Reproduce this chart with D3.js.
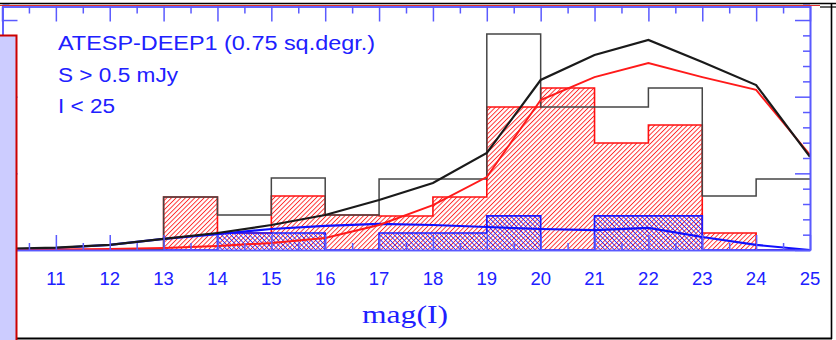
<!DOCTYPE html>
<html>
<head>
<meta charset="utf-8">
<script src="https://cdn.jsdelivr.net/npm/d3@7"></script>
<style>
  body { margin: 0; background: #fff; }
  svg { display: block; }
</style>
</head>
<body>
<svg id="chart"></svg>
<script>
// bin edges in mag(I) and histogram heights (per bin)
let binEdges = [10, 11, 12, 13, 14, 15, 16, 17, 18, 19, 20, 21, 22, 23, 24, 25];
let totalCounts = [0, 0, 0, 3.46, 2.28, 4.70, 2.28, 4.63, 4.63, 14.09, 9.33, 9.33, 10.57, 3.52, 4.63];
let redCounts = [0, 0, 0, 3.46, 1.11, 3.52, 2.28, 2.22, 3.46, 9.33, 10.57, 6.98, 8.15, 1.11, 0];
let blueCounts = [0, 0, 0, 0, 1.11, 1.11, 0, 1.11, 1.11, 2.22, 0, 2.22, 2.22, 0, 0];

// model curves sampled at integer magnitudes
let curveMags = [10, 11, 12, 13, 14, 15, 16, 17, 18, 19, 20, 21, 22, 23, 24, 25];
let blackCurve = [0.07, 0.16, 0.33, 0.72, 1.11, 1.63, 2.28, 3.26, 4.37, 6.33, 11.09, 12.72, 13.7, 12.26, 10.76, 6.07];
let redCurve = [0, 0.03, 0.07, 0.13, 0.26, 0.46, 0.78, 1.63, 2.93, 4.76, 9.78, 11.28, 12.2, 11.28, 10.44, 6.2];
let blueCurve = [0, 0.13, 0.33, 0.72, 1.04, 1.37, 1.57, 1.70, 1.63, 1.5, 1.37, 1.3, 1.44, 0.85, 0.33, 0];

let xMajor = [10, 11, 12, 13, 14, 15, 16, 17, 18, 19, 20, 21, 22, 23, 24, 25];
let xMinor = [10.5, 11.5, 12.5, 13.5, 14.5, 15.5, 16.5, 17.5, 18.5, 19.5, 20.5, 21.5, 22.5, 23.5, 24.5];
let xLabels = [11, 12, 13, 14, 15, 16, 17, 18, 19, 20, 21, 22, 23, 24, 25];
let yMajor = [0, 5, 10, 15];
let yMinor = [1, 2, 3, 4, 6, 7, 8, 9, 11, 12, 13, 14, 16];

let infoLines = ["ATESP-DEEP1 (0.75 sq.degr.)", "S > 0.5 mJy", "I < 25"];
let infoWidths = [317, 120, 57];

const W = 836, H = 340;
const BLUE = "#2020ff", AXIS = "#5a5aff";

let svg = d3.select("#chart").attr("width", W).attr("height", H);

let x = d3.scaleLinear().domain([10, 25]).range([2, 810]);
let y = d3.scaleLinear().domain([0, 16]).range([250, 4.7]);

let defs = svg.append("defs");
function hatch(id, color, angle, w) {
  let p = defs.append("pattern")
    .attr("id", id)
    .attr("patternUnits", "userSpaceOnUse")
    .attr("width", 3.3).attr("height", 3.3)
    .attr("patternTransform", `rotate(${angle})`);
  p.append("line")
    .attr("x1", 0).attr("y1", 0).attr("x2", 0).attr("y2", 3.3)
    .attr("stroke", color).attr("stroke-width", w);
}
hatch("redHatch", "rgba(255,0,0,0.85)", 45, 1.8);
hatch("blueHatch", "rgba(20,20,255,0.9)", -45, 1.7);

function stepPoints(counts) {
  let pts = counts.map((v, i) => [binEdges[i], v]);
  pts.push([binEdges[binEdges.length - 1], counts[counts.length - 1]]);
  return pts;
}

let area = d3.area().curve(d3.curveStepAfter)
  .x(d => x(d[0])).y0(y(0)).y1(d => y(d[1]));
let step = d3.line().curve(d3.curveStepAfter)
  .x(d => x(d[0])).y(d => y(d[1]));
let line = d3.line().x(d => x(d[0])).y(d => y(d[1]));

let plot = svg.append("g");

// red (hatched) histogram
plot.append("path").attr("d", area(stepPoints(redCounts)))
  .attr("fill", "url(#redHatch)");
plot.append("path").attr("d", step(stepPoints(redCounts)))
  .attr("fill", "none").attr("stroke", "#ff1010").attr("stroke-width", 1.6);

// blue (hatched) histogram
plot.append("path").attr("d", area(stepPoints(blueCounts)))
  .attr("fill", "url(#blueHatch)");
plot.append("path").attr("d", step(stepPoints(blueCounts)))
  .attr("fill", "none").attr("stroke", "#1a1aff").attr("stroke-width", 1.7);

// total histogram, outline only
plot.append("path").attr("d", step(stepPoints(totalCounts)))
  .attr("fill", "none").attr("stroke", "#454545").attr("stroke-width", 1.5);

// model curves
let curves = [
  {vals: blueCurve, color: "#1010ff", w: 2.2},
  {vals: redCurve, color: "#ff1a1a", w: 1.9},
  {vals: blackCurve, color: "#1a1a1a", w: 2.2}
];
curves.forEach(c => {
  plot.append("path")
    .attr("d", line(curveMags.map((m, i) => [m, c.vals[i]])))
    .attr("fill", "none").attr("stroke", c.color).attr("stroke-width", c.w);
});

// axes (ticks point inwards)
function styleAxis(g) {
  g.select(".domain").attr("stroke", AXIS).attr("stroke-width", 1.6);
  g.selectAll(".tick line").attr("stroke", AXIS).attr("stroke-width", 1.5);
  g.selectAll("text").remove();
}
let axes = [
  {axis: d3.axisBottom, scale: x, pos: `translate(0,${y(0)})`, major: xMajor, minor: xMinor},
  {axis: d3.axisTop, scale: x, pos: `translate(0,6.5)`, major: xMajor, minor: xMinor},
  {axis: d3.axisLeft, scale: y, pos: `translate(2.5,0)`, major: yMajor, minor: yMinor},
  {axis: d3.axisRight, scale: y, pos: `translate(810,0)`, major: yMajor, minor: yMinor}
];
axes.forEach(a => {
  svg.append("g").attr("transform", a.pos)
    .call(a.axis(a.scale).tickValues(a.minor).tickSizeInner(-7).tickSizeOuter(0))
    .call(styleAxis);
  svg.append("g").attr("transform", a.pos)
    .call(a.axis(a.scale).tickValues(a.major).tickSizeInner(-15).tickSizeOuter(0))
    .call(styleAxis);
});

// tick labels
svg.append("g").selectAll("text").data(xLabels).enter().append("text")
  .attr("x", d => x(d)).attr("y", 285)
  .attr("text-anchor", "middle")
  .attr("font-family", "Liberation Sans, Arial, sans-serif")
  .attr("font-size", 18.5).attr("fill", BLUE)
  .text(d => d);

svg.append("text")
  .attr("x", 362).attr("y", 323)
  .attr("textLength", 86).attr("lengthAdjust", "spacingAndGlyphs")
  .attr("font-family", "Liberation Serif, Times New Roman, serif")
  .attr("font-size", 25).attr("fill", BLUE)
  .text("mag(I)");

svg.append("g").selectAll("text").data(infoLines).enter().append("text")
  .attr("x", 58).attr("y", (d, i) => 50 + i * 31.5)
  .attr("textLength", (d, i) => infoWidths[i]).attr("lengthAdjust", "spacingAndGlyphs")
  .attr("font-family", "Liberation Sans, Arial, sans-serif")
  .attr("font-size", 20.5).attr("fill", BLUE)
  .text(d => d);

// slide frame around the figure
svg.append("line").attr("x1", 0).attr("x2", W).attr("y1", 3.5).attr("y2", 3.5)
  .attr("stroke", "#000").attr("stroke-width", 1.6);
svg.append("line").attr("x1", 0).attr("x2", 820).attr("y1", 5.5).attr("y2", 5.5)
  .attr("stroke", "#e03030").attr("stroke-width", 1.2);
svg.append("line").attr("x1", 820).attr("x2", W).attr("y1", 7).attr("y2", 7)
  .attr("stroke", "#000").attr("stroke-width", 1.2);
svg.append("line").attr("x1", 831.5).attr("x2", 831.5).attr("y1", 3).attr("y2", 339)
  .attr("stroke", "#000").attr("stroke-width", 1.6);
svg.append("line").attr("x1", 17).attr("x2", 832).attr("y1", 338.5).attr("y2", 338.5)
  .attr("stroke", "#000").attr("stroke-width", 1.8);

// lavender side panel
svg.append("rect").attr("x", 0).attr("y", 35).attr("width", 16).attr("height", H - 35)
  .attr("fill", "#ccccff");
svg.append("path").attr("d", "M0,35.5H16.5V340")
  .attr("fill", "none").attr("stroke", "#cc0000").attr("stroke-width", 2);
</script>
</body>
</html>
